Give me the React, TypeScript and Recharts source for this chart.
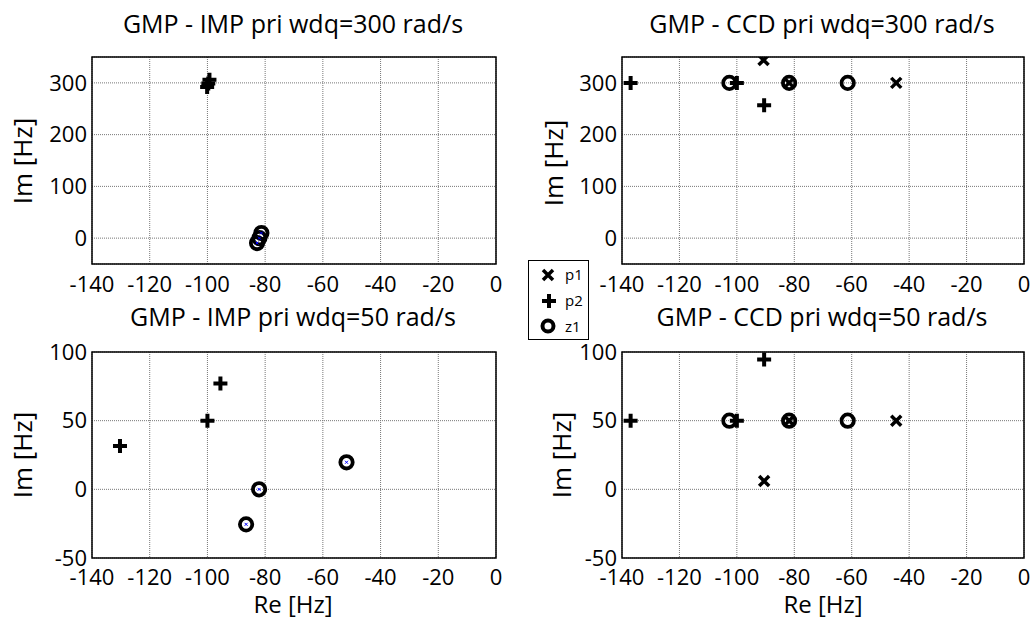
import { ScatterChart, Scatter, XAxis, YAxis, CartesianGrid, ReferenceArea } from 'recharts';

type Pt = { x: number; y: number };

const xTicks = [-140, -120, -100, -80, -60, -40, -20, 0];
const yTicksHigh = [0, 100, 200, 300];
const yTicksLow = [-50, 0, 50, 100];

// GMP - IMP, wdq = 300 rad/s
const imp300P1: Pt[] = [{ x: -82.8, y: -9.5 }, { x: -82, y: 0 }, { x: -81.3, y: 9.9 }];
const imp300P2: Pt[] = [{ x: -100.1, y: 292 }, { x: -99.7, y: 299 }, { x: -99.3, y: 306 }];
const imp300Z1: Pt[] = [{ x: -82.8, y: -9.5 }, { x: -82, y: 0 }, { x: -81.3, y: 9.9 }];

// GMP - CCD, wdq = 300 rad/s
const ccd300P1: Pt[] = [{ x: -90.7, y: 344 }, { x: -81.8, y: 300 }, { x: -44.5, y: 300 }];
const ccd300P2: Pt[] = [{ x: -137, y: 300 }, { x: -100, y: 300 }, { x: -90.5, y: 257 }];
const ccd300Z1: Pt[] = [{ x: -102.6, y: 300 }, { x: -81.8, y: 300 }, { x: -61.4, y: 300 }];

// GMP - IMP, wdq = 50 rad/s
const imp50P1: Pt[] = [{ x: -82.1, y: 0 }, { x: -86.6, y: -25.5 }, { x: -51.8, y: 19.7 }];
const imp50P2: Pt[] = [{ x: -130.3, y: 31.5 }, { x: -100, y: 50 }, { x: -95.5, y: 77 }];
const imp50Z1: Pt[] = [{ x: -82.1, y: 0 }, { x: -86.6, y: -25.5 }, { x: -51.8, y: 19.7 }];

// GMP - CCD, wdq = 50 rad/s
const ccd50P1: Pt[] = [{ x: -90.5, y: 6 }, { x: -81.8, y: 50 }, { x: -44.5, y: 50 }];
const ccd50P2: Pt[] = [{ x: -137, y: 50 }, { x: -100, y: 50 }, { x: -90.5, y: 94.5 }];
const ccd50Z1: Pt[] = [{ x: -102.6, y: 50 }, { x: -81.8, y: 50 }, { x: -61.4, y: 50 }];

const FONT = '"Open Sans", sans-serif';

function PlusMark({ cx, cy }: { cx: number; cy: number }) {
  return <path d={`M${cx - 7},${cy}h14M${cx},${cy - 7}v14`} stroke="#000" strokeWidth={4} fill="none" />;
}

function CrossMark({ cx, cy }: { cx: number; cy: number }) {
  return <path d={`M${cx - 5},${cy - 5}L${cx + 5},${cy + 5}M${cx - 5},${cy + 5}L${cx + 5},${cy - 5}`} stroke="#000" strokeWidth={3.5} fill="none" />;
}

function SmallCross({ cx, cy }: { cx: number; cy: number }) {
  return <path d={`M${cx - 1.5},${cy - 1.5}L${cx + 1.5},${cy + 1.5}M${cx - 1.5},${cy + 1.5}L${cx + 1.5},${cy - 1.5}`} stroke="#0000ff" strokeWidth={1} fill="none" />;
}

function CircleMark({ cx, cy }: { cx: number; cy: number }) {
  return <circle cx={cx} cy={cy} r={6.2} stroke="#000" strokeWidth={3.8} fill="none" />;
}

interface PanelProps {
  left: number;
  top: number;
  width: number;
  height: number;
  margin: { top: number; right: number; bottom: number; left: number };
  yDomain: [number, number];
  yTicks: number[];
  p1: Pt[];
  p2: Pt[];
  z1: Pt[];
  p1Small?: boolean;
  xTickMargin: number;
}

function Panel({ left, top, width, height, margin, yDomain, yTicks, p1, p2, z1, p1Small, xTickMargin }: PanelProps) {
  return (
    <div style={{ position: 'absolute', left, top, width, height }}>
      <ScatterChart width={width} height={height} margin={margin}>
        <CartesianGrid stroke="#777" strokeDasharray="1 1" />
        <XAxis
          type="number"
          dataKey="x"
          domain={[-140, 0]}
          ticks={xTicks}
          allowDataOverflow
          axisLine={false}
          tickLine={false}
          tickSize={6}
          tickMargin={xTickMargin}
          height={30}
          interval={0}
          tick={{ fontSize: 22, fill: '#000', fontFamily: FONT }}
        />
        <YAxis
          type="number"
          dataKey="y"
          domain={yDomain}
          ticks={yTicks}
          allowDataOverflow
          axisLine={false}
          tickLine={false}
          tickSize={5}
          tickMargin={0}
          width={50}
          interval={0}
          tick={{ fontSize: 22, fill: '#000', fontFamily: FONT }}
        />
        <ReferenceArea x1={-140} x2={0} y1={yDomain[0]} y2={yDomain[1]} fill="none" fillOpacity={0} stroke="#000" strokeWidth={1.5} />
        <Scatter data={p2} isAnimationActive={false} shape={(p: any) => <PlusMark cx={p.cx} cy={p.cy} />} />
        <Scatter data={z1} isAnimationActive={false} shape={(p: any) => <CircleMark cx={p.cx} cy={p.cy} />} />
        <Scatter
          data={p1}
          isAnimationActive={false}
          shape={(p: any) => (p1Small ? <SmallCross cx={p.cx} cy={p.cy} /> : <CrossMark cx={p.cx} cy={p.cy} />)}
        />
      </ScatterChart>
    </div>
  );
}

export default function App() {
  const topMargin = { top: 57, right: 20, bottom: 6, left: 42 };
  const topMarginR = { top: 57, right: 9, bottom: 6, left: 56 };
  const botMargin = { top: 52, right: 20, bottom: 31, left: 42 };
  const botMarginR = { top: 52, right: 9, bottom: 31, left: 56 };

  return (
    <div style={{ position: 'absolute', left: 0, top: 0, width: 1033, height: 619, background: '#fff', fontFamily: FONT }}>
      <Panel left={0} top={0} width={516} height={300} margin={topMargin} yDomain={[-50, 350]} yTicks={yTicksHigh}
        p1={imp300P1} p2={imp300P2} z1={imp300Z1} p1Small xTickMargin={6} />
      <Panel left={516} top={0} width={517} height={300} margin={topMarginR} yDomain={[-50, 350]} yTicks={yTicksHigh}
        p1={ccd300P1} p2={ccd300P2} z1={ccd300Z1} xTickMargin={6} />
      <Panel left={0} top={300} width={516} height={319} margin={botMargin} yDomain={[-50, 100]} yTicks={yTicksLow}
        p1={imp50P1} p2={imp50P2} z1={imp50Z1} p1Small xTickMargin={5} />
      <Panel left={516} top={300} width={517} height={319} margin={botMarginR} yDomain={[-50, 100]} yTicks={yTicksLow}
        p1={ccd50P1} p2={ccd50P2} z1={ccd50Z1} xTickMargin={5} />

      <svg width={1033} height={619} style={{ position: 'absolute', left: 0, top: 0, pointerEvents: 'none' }}>
        <g fontFamily={FONT} fill="#000">
          <text x={293} y={33} fontSize={25} textAnchor="middle">GMP - IMP pri wdq=300 rad/s</text>
          <text x={822} y={33} fontSize={25} textAnchor="middle">GMP - CCD pri wdq=300 rad/s</text>
          <text x={293} y={326} fontSize={25} textAnchor="middle">GMP - IMP pri wdq=50 rad/s</text>
          <text x={822} y={326} fontSize={25} textAnchor="middle">GMP - CCD pri wdq=50 rad/s</text>

          <text x={293} y={613} fontSize={24} textAnchor="middle">Re [Hz]</text>
          <text x={823} y={613} fontSize={24} textAnchor="middle">Re [Hz]</text>

          <text transform="translate(32,161) rotate(-90)" fontSize={26} textAnchor="middle">Im [Hz]</text>
          <text transform="translate(32,455) rotate(-90)" fontSize={26} textAnchor="middle">Im [Hz]</text>
          <text transform="translate(563,163) rotate(-90)" fontSize={26} textAnchor="middle">Im [Hz]</text>
          <text transform="translate(571,455) rotate(-90)" fontSize={26} textAnchor="middle">Im [Hz]</text>
        </g>

        {/* legend */}
        <rect x={528.5} y={260.5} width={60} height={79} fill="#fff" stroke="#000" strokeWidth={1} />
        <CrossMark cx={548} cy={275} />
        <PlusMark cx={549} cy={301} />
        <circle cx={548} cy={326} r={5.5} stroke="#000" strokeWidth={4} fill="none" />
        <g fontFamily={FONT} fontSize={15} fill="#000">
          <text x={565} y={280}>p1</text>
          <text x={565} y={306}>p2</text>
          <text x={565} y={332}>z1</text>
        </g>
      </svg>
    </div>
  );
}
